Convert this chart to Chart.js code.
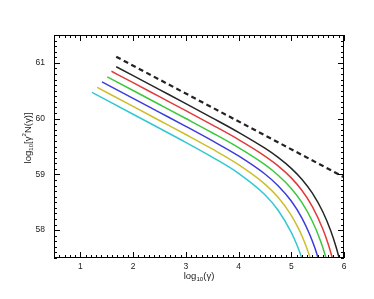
<!DOCTYPE html>
<html><head><meta charset="utf-8">
<script src="https://cdn.jsdelivr.net/npm/chart.js@4/dist/chart.umd.min.js"></script>
<style>html,body{margin:0;padding:0;background:#fff;} canvas{display:block;}</style>
</head><body>
<canvas id="c" width="374" height="299"></canvas>
<script>
// ---- data ----
const xTicks = [1, 2, 3, 4, 5, 6];
const yTicks = [58, 59, 60, 61];

const dashedX = [1.68, 6.0];
const dashedY = [61.11, 58.95];

const blackX  = [1.68, 2, 2.5, 3, 3.5, 4, 4.5, 4.75, 5, 5.2, 5.4, 5.6, 5.75, 5.85, 5.95];
const blackY  = [60.93, 60.77, 60.52, 60.27, 60.015, 59.754, 59.469, 59.304, 59.108, 58.913, 58.663, 58.325, 57.984, 57.698, 57.351];

const redX    = [1.59, 2, 2.5, 3, 3.5, 4, 4.5, 4.75, 5, 5.2, 5.4, 5.6, 5.7, 5.8];
const redY    = [60.85, 60.645, 60.394, 60.143, 59.888, 59.624, 59.329, 59.153, 58.937, 58.715, 58.422, 58.016, 57.751, 57.431];

const greenX  = [1.51, 2, 2.5, 3, 3.5, 4, 4.5, 4.75, 5, 5.2, 5.4, 5.55, 5.65, 5.72];
const greenY  = [60.75, 60.505, 60.254, 60.002, 59.747, 59.479, 59.174, 58.985, 58.748, 58.498, 58.159, 57.818, 57.532, 57.296];

const blueX   = [1.41, 2, 2.5, 3, 3.5, 4, 4.5, 4.75, 5, 5.2, 5.35, 5.45, 5.55];
const blueY   = [60.66, 60.364, 60.113, 59.862, 59.604, 59.331, 59.007, 58.797, 58.522, 58.221, 57.922, 57.673, 57.373];

const yellowX = [1.32, 2, 2.5, 3, 3.5, 4, 4.5, 4.75, 5, 5.15, 5.25, 5.35, 5.42];
const yellowY = [60.56, 60.219, 59.967, 59.715, 59.456, 59.175, 58.826, 58.590, 58.266, 58.004, 57.788, 57.529, 57.316];

const cyanX   = [1.22, 2, 2.5, 3, 3.5, 4, 4.5, 4.75, 5, 5.1, 5.2, 5.27];
const cyanY   = [60.47, 60.079, 59.827, 59.574, 59.310, 59.018, 58.634, 58.357, 57.961, 57.751, 57.50, 57.293];

// ---- chart ----
const FONT = '"Liberation Sans", Arial, sans-serif';
const pts = (xs, ys) => xs.map((x, i) => ({x, y: ys[i]}));
const line = (xs, ys, color, extra) => Object.assign({
  data: pts(xs, ys), borderColor: color, borderWidth: 1.5, pointRadius: 0,
  fill: false, cubicInterpolationMode: 'monotone'
}, extra || {});

function drawRich(ctx, parts, size) {
  let w = 0;
  parts.forEach(p => {
    ctx.font = (p.s ? size * 0.65 : size) + 'px ' + FONT;
    p.w = ctx.measureText(p.t).width; w += p.w;
  });
  let x = -w / 2;
  parts.forEach(p => {
    ctx.font = (p.s ? size * 0.65 : size) + 'px ' + FONT;
    const dy = p.s === 'sub' ? size * 0.3 : (p.s === 'sup' ? -size * 0.4 : 0);
    ctx.fillText(p.t, x, dy); x += p.w;
  });
}

const frame = {
  id: 'frame',
  afterDraw(chart) {
    const {ctx, chartArea: a, scales: {x, y}} = chart;
    ctx.save();
    ctx.strokeStyle = '#000'; ctx.lineWidth = 1;
    ctx.strokeRect(a.left + 0.5, a.top + 0.5, a.right - a.left - 1, a.bottom - a.top - 1);
    ctx.beginPath();
    for (let i = 5; i <= 60; i++) {
      const px = Math.round(x.getPixelForValue(i / 10)) + 0.5;
      const len = i % 10 === 0 ? 6 : 3;
      ctx.moveTo(px, a.bottom); ctx.lineTo(px, a.bottom - len);
      ctx.moveTo(px, a.top); ctx.lineTo(px, a.top + len);
    }
    for (let i = 575; i <= 615; i++) {
      const py = Math.round(y.getPixelForValue(i / 10)) + 0.5;
      const len = i % 10 === 0 ? 6 : 3;
      ctx.moveTo(a.left, py); ctx.lineTo(a.left + len, py);
      ctx.moveTo(a.right, py); ctx.lineTo(a.right - len, py);
    }
    ctx.stroke();
    // axis titles
    ctx.fillStyle = '#222'; ctx.textBaseline = 'middle'; ctx.textAlign = 'left';
    ctx.save();
    ctx.translate((a.left + a.right) / 2, 276);
    drawRich(ctx, [{t: 'log'}, {t: '10', s: 'sub'}, {t: '(γ)'}], 9.5);
    ctx.restore();
    ctx.save();
    ctx.translate(28, 138); ctx.rotate(-Math.PI / 2);
    drawRich(ctx, [{t: 'log'}, {t: '10', s: 'sub'}, {t: '[γ'}, {t: '2', s: 'sup'}, {t: 'N(γ)]'}], 9.5);
    ctx.restore();
    ctx.restore();
  }
};

new Chart(document.getElementById('c'), {
  type: 'line',
  data: {
    datasets: [
      line(dashedX, dashedY, '#222', {borderWidth: 2.2, borderDash: [5, 3.5], cubicInterpolationMode: 'default', tension: 0}),
      line(blackX, blackY, '#262626'),
      line(redX, redY, '#e03c3c'),
      line(greenX, greenY, '#3cc83c'),
      line(blueX, blueY, '#3c3cdc'),
      line(yellowX, yellowY, '#cdbe2d'),
      line(cyanX, cyanY, '#32c8d2')
    ]
  },
  options: {
    responsive: false, animation: false, devicePixelRatio: 1,
    layout: {padding: {top: 35, right: 30, left: 0, bottom: 0}},
    plugins: {legend: {display: false}, tooltip: {enabled: false}},
    scales: {
      x: {
        type: 'linear', min: 0.5, max: 6,
        grid: {display: false, drawTicks: false}, border: {display: false},
        afterBuildTicks: s => { s.ticks = xTicks.map(v => ({value: v})); },
        afterFit: s => { s.height = 41; },
        ticks: {padding: 4, color: '#222', font: {family: FONT, size: 8.5}, maxRotation: 0}
      },
      y: {
        type: 'linear', min: 57.5, max: 61.5,
        grid: {display: false, drawTicks: false}, border: {display: false},
        afterBuildTicks: s => { s.ticks = yTicks.map(v => ({value: v})); },
        afterFit: s => { s.width = 54; },
        ticks: {padding: 9, color: '#222', font: {family: FONT, size: 8.5}}
      }
    }
  },
  plugins: [frame]
});
</script>
</body></html>
